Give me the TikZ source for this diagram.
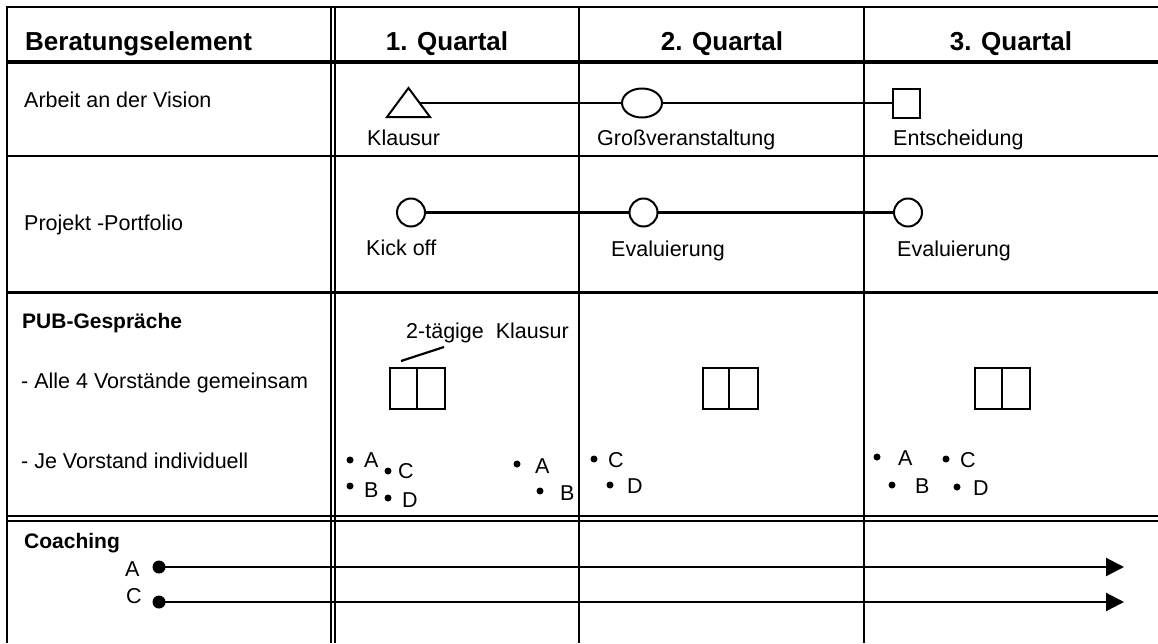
\documentclass[tikz,border=0pt]{standalone}
\usepackage{fontspec}
\setmainfont{Liberation Sans}
\usetikzlibrary{shapes.geometric,arrows.meta}
\begin{document}
\begin{tikzpicture}[x=1pt,y=-1pt,
  grid/.style={line width=2.3pt},
  gridthick/.style={line width=3.8pt},
  shp/.style={draw, line width=2pt, inner sep=0pt, outer sep=0pt},
  conn/.style={line width=2.2pt},
  lbl/.style={anchor=base west, inner sep=0pt, font=\fontsize{21.5}{24}\selectfont},
  blbl/.style={anchor=base west, inner sep=0pt, font=\bfseries\fontsize{21}{24}\selectfont},
  hdr/.style={anchor=base, inner sep=0pt, font=\bfseries\fontsize{26}{30}\selectfont},
  hdrw/.style={anchor=base west, inner sep=0pt, font=\bfseries\fontsize{26}{30}\selectfont},
  halfbox/.style={shp, anchor=north west, minimum height=41pt},
  bul/.style={fill, circle, inner sep=0pt, minimum size=7pt},
  dot/.style={fill, circle, inner sep=0pt, minimum size=13pt},
  arr/.style={conn, -{Triangle[length=18pt,width=18pt]}}
]
\useasboundingbox (0,0) rectangle (1158,643);
\fill[white] (0,0) rectangle (1158,643);

% ---- table grid ----
\draw[grid] (7,7) -- (1158,7);
\draw[gridthick] (7,62) -- (1158,62);
\draw[grid] (7,156) -- (1158,156);
\draw[grid] (7,292.5) -- (1158,292.5);
\draw[line width=2pt] (7,516) -- (1158,516);
\draw[line width=1.8pt] (7,521) -- (1158,521);
\draw[grid] (7,6) -- (7,643);
\draw[line width=2pt] (330.5,6) -- (330.5,643);
\draw[line width=2pt] (334.7,6) -- (334.7,643);
\draw[grid] (579,6) -- (579,643);
\draw[grid] (864,6) -- (864,643);

% ---- header ----
\node[hdrw] (h0) at (25,50) {Beratungselement};
\node[hdr] (h1) at (447,50) {1. Quartal};
\node[hdr] (h2) at (722,50) {2. Quartal};
\node[hdr] (h3) at (1011,50) {3. Quartal};

% ---- row 1: Arbeit an der Vision ----
\node[lbl] (r1) at (24,107) {Arbeit an der Vision};
\draw[line width=2pt, line join=miter] (387,117) -- (430,117) -- (408.5,88) -- cycle;
\coordinate (triS) at (419.6,103);
\node[shp, ellipse, minimum width=40pt, minimum height=29pt] (ell) at (642,103) {};
\node[shp, rectangle, minimum width=27pt, minimum height=29pt] (sq) at (906.5,103) {};
\draw[conn] (triS) -- (ell.west);
\draw[conn] (ell.east) -- (sq.west);
\node[lbl] (t1) at (367,145.5) {Klausur};
\node[lbl] (t2) at (597,145.5) {Großveranstaltung};
\node[lbl] (t3) at (893,145.5) {Entscheidung};

% ---- row 2: Projekt-Portfolio ----
\node[lbl] (r2) at (24,230) {Projekt -Portfolio};
\node[shp, circle, minimum size=28pt] (k1) at (411,212.5) {};
\node[shp, circle, minimum size=28pt] (k2) at (643.5,212.5) {};
\node[shp, circle, minimum size=28pt] (k3) at (908,212.5) {};
\draw[conn] (k1.east) -- (k2.west);
\draw[conn] (k2.east) -- (k3.west);
\node[lbl] (u1) at (366,255.5) {Kick off};
\node[lbl] (u2) at (611,256) {Evaluierung};
\node[lbl] (u3) at (897,256) {Evaluierung};

% ---- row 3: PUB-Gespraeche ----
\node[blbl] (r3) at (22,328) {PUB-Gespräche};
\node[lbl] (r3a) at (21,388) {- Alle 4 Vorstände gemeinsam};
\node[lbl] (r3b) at (21,468) {- Je Vorstand individuell};

\node[lbl] (kl) at (406,338) {2-tägige\ \ Klausur};
\coordinate (ldA) at (401,361);
\coordinate (ldB) at (444,347);
\draw[conn] (ldA) -- (ldB);

\node[halfbox, minimum width=27pt] (b1l) at (390,368) {};
\node[halfbox, minimum width=28pt] (b1r) at (b1l.north east) {};
\node[halfbox, minimum width=26pt] (b2l) at (703,368) {};
\node[halfbox, minimum width=29pt] (b2r) at (b2l.north east) {};
\node[halfbox, minimum width=27pt] (b3l) at (975,368) {};
\node[halfbox, minimum width=28pt] (b3r) at (b3l.north east) {};

% bullets column 1
\node[bul] (p1) at (350,460) {};  \node[lbl] (q1) at (364,467) {A};
\node[bul] (p2) at (388,471) {};  \node[lbl] (q2) at (398,478) {C};
\node[bul] (p3) at (350,486) {};  \node[lbl] (q3) at (364,497) {B};
\node[bul] (p4) at (388,498) {};  \node[lbl] (q4) at (402,507) {D};
\node[bul] (p5) at (517,464) {};  \node[lbl] (q5) at (535,473) {A};
\node[bul] (p6) at (540,491) {};  \node[lbl] (q6) at (560,500) {B};
% bullets column 2
\node[bul] (p7) at (594,459) {};  \node[lbl] (q7) at (608,467) {C};
\node[bul] (p8) at (610,485) {};  \node[lbl] (q8) at (627,493) {D};
% bullets column 3
\node[bul] (p9) at (877,457) {};  \node[lbl] (q9) at (898,465) {A};
\node[bul] (p10) at (946,459) {}; \node[lbl] (q10) at (960,467) {C};
\node[bul] (p11) at (892,485) {}; \node[lbl] (q11) at (915,493) {B};
\node[bul] (p12) at (957,487) {}; \node[lbl] (q12) at (973,495) {D};

% ---- row 4: Coaching ----
\node[blbl] (r4) at (24,548) {Coaching};
\node[lbl] (ca) at (125,576) {A};
\node[lbl] (cc) at (126,603) {C};
\node[dot] (dA) at (159,567) {};
\node[dot] (dC) at (159,602) {};
\coordinate (eA) at (1124,567);
\coordinate (eC) at (1124,602);
\draw[arr] (dA.center) -- (eA);
\draw[arr] (dC.center) -- (eC);
\end{tikzpicture}
\end{document}
